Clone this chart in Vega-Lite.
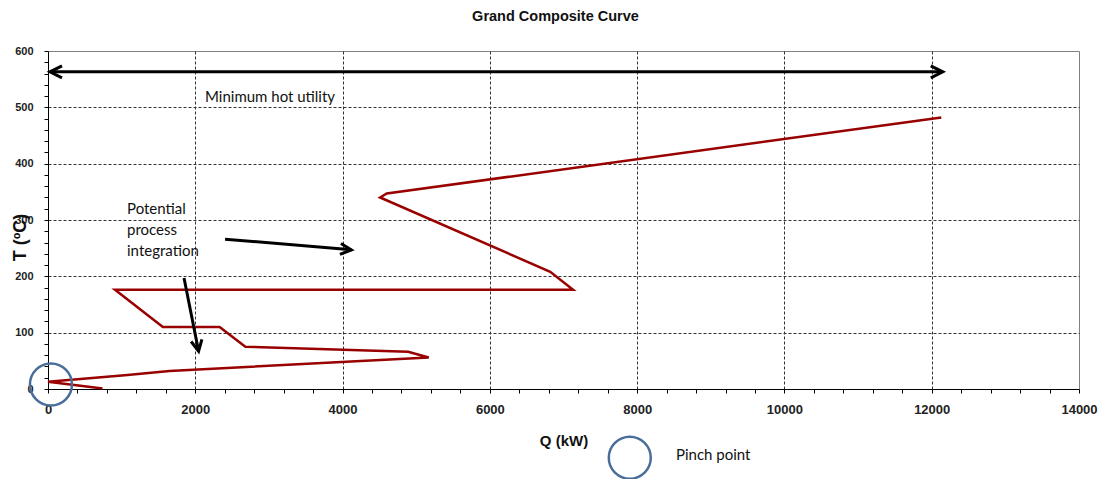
{
  "$schema": "https://vega.github.io/schema/vega-lite/v6.json",
  "width": 1031,
  "height": 338,
  "autosize": {"type": "none"},
  "padding": {"left": 48, "top": 51, "right": 20, "bottom": 90},
  "background": "white",
  "title": {
    "text": "Grand Composite Curve",
    "font": "Liberation Sans",
    "fontSize": 14.5,
    "fontWeight": "bold",
    "color": "#111",
    "anchor": "middle",
    "offset": 21,
    "dx": -8
  },
  "config": {
    "view": {"stroke": "#808080", "strokeWidth": 1},
    "axis": {
      "labelFont": "Liberation Sans",
      "labelFontWeight": "bold",
      "labelColor": "#222",
      "labelFlush": false,
      "titleFont": "Liberation Sans",
      "titleFontWeight": "bold",
      "titleColor": "#111",
      "domainColor": "#000",
      "tickColor": "#000",
      "tickSize": 4,
      "gridColor": "#333",
      "gridDash": [3, 2],
      "gridWidth": 1,
      "labelOverlap": false
    }
  },
  "datasets": {
    "curve": [
      {"Q": 12130, "T": 482, "ord": 1},
      {"Q": 4600, "T": 347, "ord": 2},
      {"Q": 4510, "T": 340, "ord": 3},
      {"Q": 6820, "T": 208, "ord": 4},
      {"Q": 7130, "T": 176, "ord": 5},
      {"Q": 910, "T": 176, "ord": 6},
      {"Q": 1560, "T": 110, "ord": 7},
      {"Q": 2330, "T": 110, "ord": 8},
      {"Q": 2680, "T": 75, "ord": 9},
      {"Q": 4890, "T": 66, "ord": 10},
      {"Q": 5170, "T": 56, "ord": 11},
      {"Q": 1650, "T": 32, "ord": 12},
      {"Q": 1080, "T": 25, "ord": 13},
      {"Q": 0, "T": 13, "ord": 14},
      {"Q": 740, "T": 1, "ord": 15}
    ],
    "arrows": [
      {"Q": 27, "T": 563, "Q2": 12150, "T2": 563},
      {"Q": 2404, "T": 266, "Q2": 4120, "T2": 247},
      {"Q": 1847, "T": 197, "Q2": 2045, "T2": 67}
    ],
    "texts": [
      {"Q": 2132, "T": 518, "label": "Minimum  hot utility"},
      {"Q": 1073, "T": 320, "label": "Potential"},
      {"Q": 1073, "T": 282, "label": "process"},
      {"Q": 1073, "T": 245, "label": "integration"},
      {"Q": 8528, "T": -117, "label": "Pinch point"}
    ],
    "circles": [
      {"Q": 40, "T": 8},
      {"Q": 7900, "T": -122}
    ]
  },
  "layer": [
    {
      "data": {"name": "curve"},
      "mark": {"type": "line", "color": "#990000", "strokeWidth": 2.5, "strokeJoin": "miter"},
      "encoding": {
        "x": {
          "field": "Q", "type": "quantitative",
          "scale": {"domain": [0, 14000], "nice": false},
          "axis": {
            "title": "Q (kW)",
            "titleFontSize": 15,
            "titleY": 51,
            "titleBaseline": "middle",
            "labelFontSize": 13,
            "labelPadding": 10,
            "tickCount": 200,
            "values": [0,400,800,1200,1600,2000,2400,2800,3200,3600,4000,4400,4800,5200,5600,6000,6400,6800,7200,7600,8000,8400,8800,9200,9600,10000,10400,10800,11200,11600,12000,12400,12800,13200,13600,14000],
            "labelExpr": "datum.value % 2000 === 0 ? format(datum.value, 'd') : ''",
            "grid": true,
            "gridOpacity": {"condition": {"test": "datum.value % 2000 === 0 && datum.value > 0 && datum.value < 14000", "value": 1}, "value": 0}
          }
        },
        "y": {
          "field": "T", "type": "quantitative",
          "scale": {"domain": [0, 600], "nice": false},
          "axis": {
            "title": "T (ºC)",
            "titleFontSize": 18,
            "titleAngle": -90,
            "titleX": -28,
            "titleY": 186,
            "titleAlign": "center",
            "titleBaseline": "middle",
            "labelFontSize": 11,
            "labelPadding": 11,
            "tickCount": 200,
            "values": [0,20,40,60,80,100,120,140,160,180,200,220,240,260,280,300,320,340,360,380,400,420,440,460,480,500,520,540,560,580,600],
            "labelExpr": "datum.value % 100 === 0 ? format(datum.value, 'd') : ''",
            "grid": true,
            "gridOpacity": {"condition": {"test": "datum.value % 100 === 0 && datum.value > 0 && datum.value < 600", "value": 1}, "value": 0}
          }
        },
        "order": {"field": "ord", "type": "quantitative"}
      }
    },
    {
      "data": {"name": "arrows"},
      "mark": {"type": "rule", "color": "#000", "strokeWidth": 3},
      "encoding": {
        "x": {"field": "Q", "type": "quantitative"},
        "y": {"field": "T", "type": "quantitative"},
        "x2": {"field": "Q2"},
        "y2": {"field": "T2"}
      }
    },
    {
      "data": {"values": [{"Q": 27, "T": 563}]},
      "mark": {"type": "point", "shape": "M -1 -0.5 L 0 0 L -1 0.5", "filled": false, "stroke": "#000", "strokeWidth": 3, "size": 576, "angle": 180, "opacity": 1},
      "encoding": {"x": {"field": "Q", "type": "quantitative"}, "y": {"field": "T", "type": "quantitative"}}
    },
    {
      "data": {"values": [{"Q": 12150, "T": 563}]},
      "mark": {"type": "point", "shape": "M -1 -0.5 L 0 0 L -1 0.5", "filled": false, "stroke": "#000", "strokeWidth": 3, "size": 576, "angle": 0, "opacity": 1},
      "encoding": {"x": {"field": "Q", "type": "quantitative"}, "y": {"field": "T", "type": "quantitative"}}
    },
    {
      "data": {"values": [{"Q": 4120, "T": 247}]},
      "mark": {"type": "point", "shape": "M -1 -0.5 L 0 0 L -1 0.5", "filled": false, "stroke": "#000", "strokeWidth": 3, "size": 484, "angle": 5, "opacity": 1},
      "encoding": {"x": {"field": "Q", "type": "quantitative"}, "y": {"field": "T", "type": "quantitative"}}
    },
    {
      "data": {"values": [{"Q": 2045, "T": 67}]},
      "mark": {"type": "point", "shape": "M -1 -0.5 L 0 0 L -1 0.5", "filled": false, "stroke": "#000", "strokeWidth": 3, "size": 484, "angle": 79, "opacity": 1},
      "encoding": {"x": {"field": "Q", "type": "quantitative"}, "y": {"field": "T", "type": "quantitative"}}
    },
    {
      "data": {"name": "circles"},
      "mark": {"type": "point", "shape": "circle", "filled": false, "stroke": "#4a6e9a", "strokeWidth": 2.5, "size": 1764, "opacity": 1},
      "encoding": {"x": {"field": "Q", "type": "quantitative"}, "y": {"field": "T", "type": "quantitative"}}
    },
    {
      "data": {"name": "texts"},
      "mark": {"type": "text", "align": "left", "baseline": "middle", "font": "Lato", "fontSize": 15, "color": "#111"},
      "encoding": {
        "x": {"field": "Q", "type": "quantitative"},
        "y": {"field": "T", "type": "quantitative"},
        "text": {"field": "label"}
      }
    }
  ]
}
